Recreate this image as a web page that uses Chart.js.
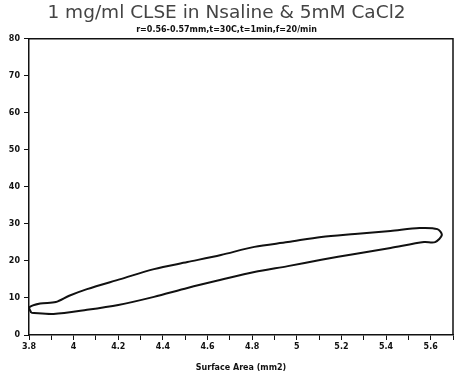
<!DOCTYPE html>
<html lang="en">
<head>
  <meta charset="UTF-8">
  <title>CLSE loop</title>
  <script src="https://cdn.jsdelivr.net/npm/chart.js"></script>
  <style>
    html, body { margin: 0; padding: 0; background: #fff; }
    #wrap { width: 461px; height: 375px; }
  </style>
</head>
<body>
<div id="wrap"><canvas id="c" width="461" height="375"></canvas></div>
<script>
  // loop: bottom branch left->right, then top branch right->left
  const loopX = [3.81, 3.91, 4.06, 4.20, 4.36, 4.51, 4.66, 4.81, 4.96, 5.11, 5.26, 5.42, 5.57, 5.62, 5.65, 5.63,
                 5.55, 5.42, 5.26, 5.11, 4.96, 4.81, 4.66, 4.51, 4.36, 4.21, 4.06, 3.98, 3.92, 3.85, 3.80, 3.81];
  const loopY = [6.0, 5.7, 6.8, 8.1, 10.3, 12.7, 14.9, 17.0, 18.6, 20.3, 21.9, 23.5, 25.1, 25.1, 27.0, 28.6,
                 28.9, 28.1, 27.3, 26.5, 25.1, 23.8, 21.6, 19.7, 17.8, 15.1, 12.4, 10.6, 8.9, 8.5, 7.4, 6.0];
  const xLabels = ['3.8', '4', '4.2', '4.4', '4.6', '4.8', '5', '5.2', '5.4', '5.6'];
  const yTicks = [0, 10, 20, 30, 40, 50, 60, 70, 80];

  const pts = loopX.map((x, i) => ({ x, y: loopY[i] }));
  const tickFont = { family: 'DejaVu Sans', size: 8, weight: 'bold' };

  const boxPlugin = {
    id: 'box',
    afterDraw(chart) {
      const { ctx, chartArea: a } = chart;
      ctx.save();
      ctx.strokeStyle = '#111';
      ctx.lineWidth = 1.5;
      ctx.beginPath();
      ctx.moveTo(a.left, a.top);
      ctx.lineTo(a.right, a.top);
      ctx.lineTo(a.right, a.bottom);
      ctx.stroke();
      ctx.restore();
    }
  };

  new Chart(document.getElementById('c'), {
    type: 'scatter',
    data: {
      datasets: [{
        data: pts,
        showLine: true,
        borderColor: '#111',
        borderWidth: 2,
        pointRadius: 0,
        tension: 0.3,
        fill: false
      }]
    },
    options: {
      responsive: false,
      animation: false,
      layout: { padding: { left: 0, right: 8, top: 0, bottom: 0 } },
      plugins: {
        legend: { display: false },
        tooltip: { enabled: false },
        title: {
          display: true,
          text: '1 mg/ml CLSE in Nsaline & 5mM CaCl2',
          color: '#444',
          font: { family: 'DejaVu Sans', size: 18.5, weight: 'normal' },
          padding: { top: 2, bottom: 1 }
        },
        subtitle: {
          display: true,
          text: 'r=0.56-0.57mm,t=30C,t=1min,f=20/min',
          color: '#111',
          font: { family: 'DejaVu Sans', size: 8, weight: 'bold' },
          padding: { top: 0, bottom: 4 }
        }
      },
      scales: {
        x: {
          type: 'linear',
          min: 3.8,
          max: 5.7,
          border: { display: true, color: '#111', width: 1.5 },
          grid: { drawOnChartArea: false, drawTicks: true, tickLength: 5, color: '#111' },
          ticks: {
            stepSize: 0.1,
            autoSkip: false,
            maxRotation: 0,
            color: '#111',
            font: tickFont,
            padding: 2,
            callback: v => {
              const s = String(Math.round(v * 10) / 10);
              return xLabels.includes(s) ? s : '';
            }
          },
          title: {
            display: true,
            text: 'Surface Area (mm2)',
            color: '#111',
            font: { family: 'DejaVu Sans', size: 8, weight: 'bold' },
            padding: { top: 5, bottom: 2 }
          },
          afterFit: s => { s.height = 40; }
        },
        y: {
          min: 0,
          max: 80,
          border: { display: true, color: '#111', width: 1.5 },
          grid: { drawOnChartArea: false, drawTicks: true, tickLength: 5, color: '#111' },
          afterBuildTicks: s => { s.ticks = yTicks.map(v => ({ value: v })); },
          ticks: { color: '#111', font: tickFont, padding: 4 },
          afterFit: s => { s.width = 29; }
        }
      }
    },
    plugins: [boxPlugin]
  });
</script>
</body>
</html>
